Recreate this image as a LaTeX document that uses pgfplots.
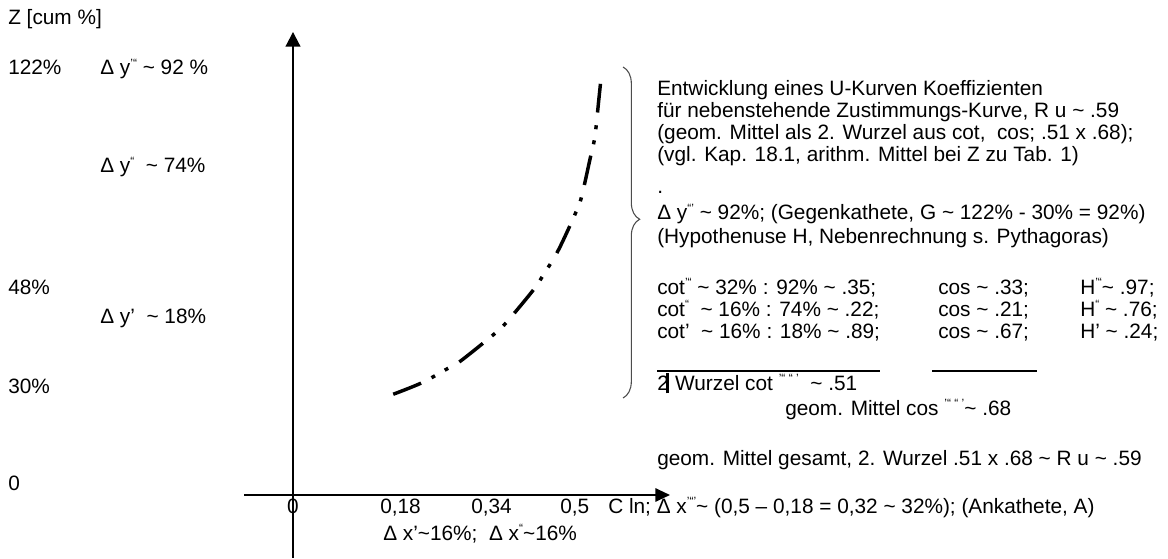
\documentclass[border=0pt]{standalone}
\usepackage{fontspec}
\setmainfont{Liberation Sans}
\usepackage{pgfplots}
\pgfplotsset{compat=1.18}
\usetikzlibrary{arrows.meta,decorations.pathreplacing}

% pixel positions of the reference (1168 x 558), 1px = 0.75pt
\newcommand{\tx}[3]{\node[anchor=base west,inner sep=0pt] at ({#1*0.75pt},{(558-#2)*0.75pt}) {#3};}
\newcommand{\sm}[1]{\raisebox{0.38em}{\fontsize{9}{9}\selectfont #1}}
\newcommand{\tl}{\textasciitilde}

\begin{document}
\begin{tikzpicture}[every node/.style={font=\fontsize{15.6}{17}\selectfont}]
\path[use as bounding box] (0,0) rectangle (876pt,418.5pt);
\begin{axis}[
    at={(0pt,0pt)}, anchor=south west,
    scale only axis, width=876pt, height=418.5pt,
    xmin=-0.52321, xmax=1.5625,
    ymin=-18.694, ymax=146.884,
    hide axis, clip=false
]
% axes drawn as arrows
\draw[line width=1.5pt,-{Triangle[length=11pt,width=11pt]}] (axis cs:0,-18.69) -- (axis cs:0,137.4);
\draw[line width=1.5pt,-{Triangle[length=11pt,width=10pt]}] (axis cs:-0.0875,0) -- (axis cs:0.6732,0);
% Zustimmungs-Kurve
\addplot[black, line width=2.6pt, smooth, tension=0.55,
    dash pattern=on 22.5pt off 8.8pt on 3pt off 8.4pt on 3pt off 9.6pt]
coordinates {
(0.179,29.9) (0.230,33.3) (0.277,37.6) (0.298,39.6) (0.361,48.0)
(0.382,51.4) (0.429,60.8) (0.447,65.3) (0.474,72.7) (0.507,84.6)
(0.516,89.0) (0.530,99.4) (0.539,106.3) (0.546,117.2) (0.549,122.0)
};
\end{axis}

% left column
\tx{8}{25}{Z [cum \%]}
\tx{8}{75}{122\%}
\tx{100}{75}{Δ y\sm{'“} \tl{} 92 \%}
\tx{100}{173}{Δ y\sm{“}\ \ \tl{} 74\%}
\tx{8}{295}{48\%}
\tx{100}{323}{Δ y'\ \ \tl{} 18\%}
\tx{8}{393}{30\%}
\tx{8}{490}{0}

% x labels
\node[anchor=base,inner sep=0pt] at ({293*0.75pt},{(558-513)*0.75pt}) {0};
\tx{380}{513}{0,18}
\tx{471}{513}{0,34}
\tx{560}{513}{0,5}
\tx{608}{513}{C ln; Δ x\sm{'“'}\tl{} (0,5 – 0,18 = 0,32 \tl{} 32\%); (Ankathete, A)}
\tx{383}{540}{Δ x'\tl{}16\%;\ \ Δ x\sm{“}\tl{}16\%}

% brace
\draw[decorate,decoration={brace,amplitude=12.5pt,aspect=0.46},line width=0.8pt,black!70]
    ({623*0.75pt},{(558-67)*0.75pt}) -- ({623*0.75pt},{(558-398)*0.75pt});

% right block
\tx{657}{96}{Entwicklung eines U-Kurven Koeffizienten}
\tx{657}{118}{für nebenstehende Zustimmungs-Kurve, R u \tl{} .59}
\tx{657}{140}{(geom. Mittel als 2. Wurzel aus cot,\ \ cos; .51 x .68);}
\tx{657}{162}{(vgl. Kap. 18.1, arithm. Mittel bei Z zu Tab. 1)}
\tx{657}{194}{.}
\tx{657}{220}{Δ y\sm{“'} \tl{} 92\%; (Gegenkathete, G \tl{} 122\% - 30\% = 92\%)}
\tx{657}{243}{(Hypothenuse H, Nebenrechnung s. Pythagoras)}

\tx{657}{294}{cot\sm{'“} \tl{} 32\% : 92\% \tl{} .35;}
\tx{657}{316}{cot\sm{“}\ \ \tl{} 16\% : 74\% \tl{} .22;}
\tx{657}{338}{cot'\ \ \tl{} 16\% : 18\% \tl{} .89;}
\tx{938}{294}{cos \tl{} .33;}
\tx{938}{316}{cos \tl{} .21;}
\tx{938}{338}{cos \tl{} .67;}
\tx{1080}{294}{H\sm{'“}\tl{} .97;}
\tx{1080}{316}{H\sm{“} \tl{} .76;}
\tx{1080}{338}{H' \tl{} .24;}

\draw[line width=1.1pt] ({657*0.75pt},{(558-371)*0.75pt}) -- ({880*0.75pt},{(558-371)*0.75pt});
\draw[line width=1.1pt] ({932*0.75pt},{(558-371)*0.75pt}) -- ({1037*0.75pt},{(558-371)*0.75pt});

\tx{657}{390}{2\kern-1.8pt\rule[-2.5pt]{2.2pt}{15pt}\ Wurzel cot \sm{'“ “ '}\ \ \tl{} .51}
\tx{785}{415}{geom. Mittel cos \sm{'“ “ '}\tl{} .68}
\tx{657}{465}{geom. Mittel gesamt, 2. Wurzel .51 x .68 \tl{} R u \tl{} .59}
\end{tikzpicture}
\end{document}
